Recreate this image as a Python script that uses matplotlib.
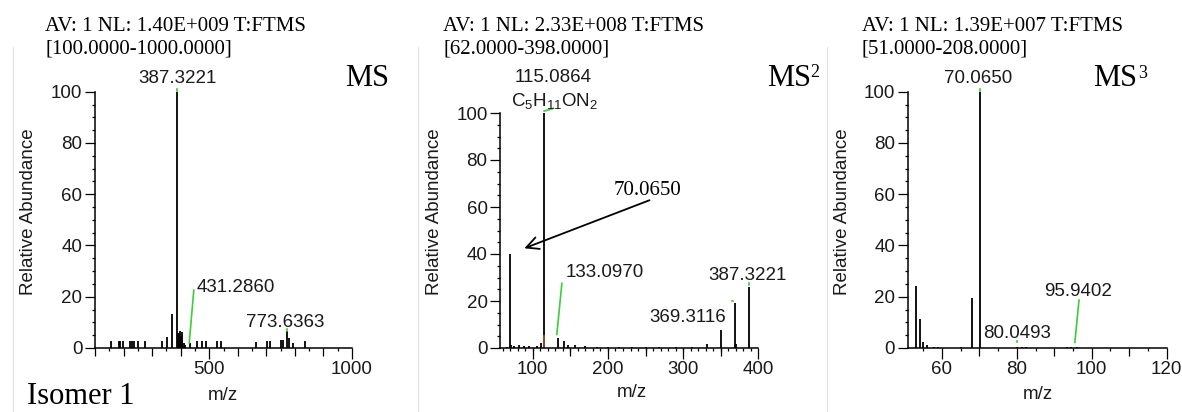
import matplotlib
matplotlib.use('Agg')
import matplotlib.pyplot as plt
import numpy as np

plt.rcParams['font.family'] = ['Liberation Sans', 'DejaVu Sans']
plt.rcParams['mathtext.fontset'] = 'custom'
plt.rcParams['mathtext.rm'] = 'Liberation Sans'
plt.rcParams['mathtext.it'] = 'Liberation Sans:italic'

# ---- MS (full scan) ----
ms1_mz = [157, 183, 189, 197, 224, 231, 236, 252, 274, 336, 351, 368, 387.3221,
          391, 394, 397, 400, 403, 406, 410, 414, 431.2860, 458, 475, 490, 528, 540,
          665, 704, 713, 753, 760, 773.6363, 781, 792, 835]
ms1_int = [2.9, 2.9, 2.9, 2.9, 2.9, 2.9, 2.9, 2.9, 2.9, 2.9, 4.4, 13.2, 100,
           6.0, 5.5, 6.5, 4.5, 6.3, 3.0, 2.0, 1.2, 1.8, 2.9, 2.9, 2.9, 2.9, 2.9,
           2.2, 2.9, 2.9, 3.0, 3.0, 6.5, 4.0, 1.8, 2.6]

# ---- MS2 ----
ms2_mz = [66, 70.0650, 71, 75, 82, 88, 95, 105, 111, 115.0864, 133.0970, 141, 147,
          156, 170, 185, 200, 215, 232, 250, 268, 290, 312, 332, 351, 369.3116, 371,
          387.3221]
ms2_int = [0.6, 40, 1.4, 0.8, 1.4, 0.7, 1.0, 0.8, 2.0, 100, 4.3, 2.8, 1.2,
           1.4, 0.9, 0.5, 0.5, 0.4, 0.6, 0.4, 0.5, 0.4, 0.5, 1.5, 7.6, 19, 1.5,
           25.8]

# ---- MS3 ----
ms3_mz = [53.04, 54.05, 55.05, 56.05, 58.0, 59.0, 65.0, 68.05, 70.0650,
          80.0493, 81.5, 82.5, 93.5, 94.5, 95.9402]
ms3_int = [24.3, 11.3, 2.5, 1.0, 0.4, 0.3, 0.3, 19.7, 100,
           0.4, 0.3, 0.3, 0.3, 0.3, 0.4]

green = '#3ccc3c'
txtc = '#1a1a1a'
fs = 13.5


def style_axis(ax, xlim, major, mid, short):
    ax.set_xlim(xlim)
    ax.set_ylim(0, 100)
    for s in ['top', 'right']:
        ax.spines[s].set_visible(False)
    for s in ['left', 'bottom']:
        ax.spines[s].set_linewidth(1.1)
    ax.set_xticks(major)
    ax.set_xticks(mid, minor=True)
    ax.tick_params(axis='x', which='major', length=8, width=0.9, labelsize=fs,
                   pad=1.5, labelcolor=txtc)
    ax.tick_params(axis='x', which='minor', length=5.5, width=0.9)
    sec = ax.secondary_xaxis('bottom')
    sec.set_xticks(short)
    sec.tick_params(length=2.5, width=0.9, labelbottom=False)
    sec.spines['bottom'].set_visible(False)
    ax.set_yticks(np.arange(0, 101, 20))
    ax.set_yticks(np.arange(0, 101, 5), minor=True)
    ax.tick_params(axis='y', which='major', length=7, width=0.9, labelsize=fs,
                   pad=2, labelcolor=txtc)
    ax.tick_params(axis='y', which='minor', length=2.5, width=0.9)
    ax.patch.set_alpha(0)


fig = plt.figure(figsize=(11.82, 4.12), dpi=100)

# panel rectangles from pixel positions
def rect(left, right, top, bottom):
    return [left / 1182, 1 - bottom / 412, (right - left) / 1182, (bottom - top) / 412]

ax1 = fig.add_axes(rect(95, 352, 91.7, 348))
ax2 = fig.add_axes(rect(500, 758.3, 113, 348))
ax3 = fig.add_axes(rect(907.7, 1166.7, 91.7, 348))

# MS
ax1.vlines(ms1_mz, 0, ms1_int, color='black', lw=1.3)
style_axis(ax1, (100, 1000), [500, 1000], np.arange(100, 1001, 100), np.arange(150, 1000, 100))
ax1.text(387.3221, 103.4, '387.3221', ha='center', va='baseline', fontsize=fs, color=txtc)
ax1.text(455, 22, '431.2860', ha='left', va='baseline', fontsize=fs, color=txtc)
ax1.plot([446, 430], [22.6, 2.0], color=green, lw=1.2)
ax1.text(766, 8.3, '773.6363', ha='center', va='baseline', fontsize=fs, color=txtc)
ax1.plot([773.6, 773.6], [6.6, 7.4], color=green, lw=1.2)
ax1.plot([387.3, 387.3], [100.2, 101], color=green, lw=1.2, clip_on=False)

# MS2
ax2.vlines(ms2_mz, 0, ms2_int, color='black', lw=1.3)
ax2.vlines([114.6], 0, [5.7], color='#c84a3a', lw=1.1)
style_axis(ax2, (56.4, 400), [100, 200, 300, 400], [150, 250, 350], np.arange(60, 400, 10))
ax2.text(127.5, 113.3, '115.0864', ha='center', va='baseline', fontsize=fs, color=txtc, clip_on=False)
ax2.text(128.5, 103, r'C$_5$H$_{11}$ON$_2$', ha='center', va='baseline', fontsize=fs, color=txtc, clip_on=False)
ax2.plot([115.1, 127.5], [100.8, 102], color=green, lw=1.2, clip_on=False)
ax2.text(207, 65.1, '70.0650', ha='left', va='baseline', fontsize=15, color='black',
         family='Liberation Serif')
ax2.annotate('', xy=(85.3, 42), xytext=(258.7, 63.3),
             arrowprops=dict(arrowstyle='->', lw=1.3, color='black', mutation_scale=22))
ax2.text(144, 30.3, '133.0970', ha='left', va='baseline', fontsize=fs, color=txtc)
ax2.plot([138.7, 132], [27.5, 5.8], color=green, lw=1.2)
ax2.text(334, 28.9, '387.3221', ha='left', va='baseline', fontsize=fs, color=txtc)
ax2.plot([387.3, 387.3], [26.8, 27.6], color=green, lw=1.2)
ax2.text(255.5, 11.2, '369.3116', ha='left', va='baseline', fontsize=fs, color=txtc)
ax2.plot([364.5, 367], [20.1, 20.1], color=green, lw=1.2)

# MS3
ax3.vlines(ms3_mz, 0, ms3_int, color='black', lw=1.3)
style_axis(ax3, (50.9, 120), [60, 80, 100, 120], [70, 90, 110], np.arange(55, 120, 10))
ax3.text(69.8, 103.3, '70.0650', ha='center', va='baseline', fontsize=fs, color=txtc)
ax3.plot([70.065, 70.065], [100.2, 101], color=green, lw=1.2, clip_on=False)
ax3.text(71, 3.8, '80.0493', ha='left', va='baseline', fontsize=fs, color=txtc)
ax3.plot([80.05, 80.05], [2.2, 2.9], color=green, lw=1.2)
ax3.text(87.2, 20.3, '95.9402', ha='left', va='baseline', fontsize=fs, color=txtc)
ax3.plot([96.6, 95.5], [18.7, 2.2], color=green, lw=1.2)

# axis labels
for ax, yl, xl in [(ax1, (-0.26, 0.53), (0.498, -0.184)),
                   (ax2, (-0.252, 0.579), (0.51, -0.19)),
                   (ax3, (-0.252, 0.531), (0.503, -0.183))]:
    ax.text(yl[0], yl[1], 'Relative Abundance', transform=ax.transAxes, rotation=90,
            ha='center', va='center', fontsize=fs, color=txtc)
    ax.text(xl[0], xl[1], 'm/z', transform=ax.transAxes, ha='center', va='center',
            fontsize=fs, color=txtc)

# headers
serif = 'Liberation Serif'
headers = [(45, 'AV: 1 NL: 1.40E+009 T:FTMS', '[100.0000-1000.0000]'),
           (443.3, 'AV: 1 NL: 2.33E+008 T:FTMS', '[62.0000-398.0000]'),
           (861.7, 'AV: 1 NL: 1.39E+007 T:FTMS', '[51.0000-208.0000]')]
for x, l1, l2 in headers:
    fig.text(x / 1182, 1 - 30.7 / 412, l1, family=serif, fontsize=15, va='baseline')
    fig.text(x / 1182, 1 - 53.3 / 412, l2, family=serif, fontsize=15, va='baseline')

fig.text(345 / 1182, 1 - 86 / 412, 'MS', family=serif, fontsize=22, va='baseline')
fig.text(766.7 / 1182, 1 - 86 / 412, 'MS', family=serif, fontsize=22, va='baseline')
fig.text(810 / 1182, 1 - 77 / 412, '2', family=serif, fontsize=13, va='baseline')
fig.text(1093.3 / 1182, 1 - 86 / 412, 'MS', family=serif, fontsize=22, va='baseline')
fig.text(1138 / 1182, 1 - 78 / 412, '3', family=serif, fontsize=13, va='baseline')
fig.text(27 / 1182, 1 - 404 / 412, 'Isomer 1', family=serif, fontsize=22, va='baseline')

# faint screenshot borders
for xp in [13, 418, 827]:
    fig.add_artist(plt.Line2D([xp / 1182, xp / 1182], [0, 1 - 47 / 412],
                              color='#e2e2e2', lw=0.8, transform=fig.transFigure))

fig.savefig('out.png', dpi=100)
